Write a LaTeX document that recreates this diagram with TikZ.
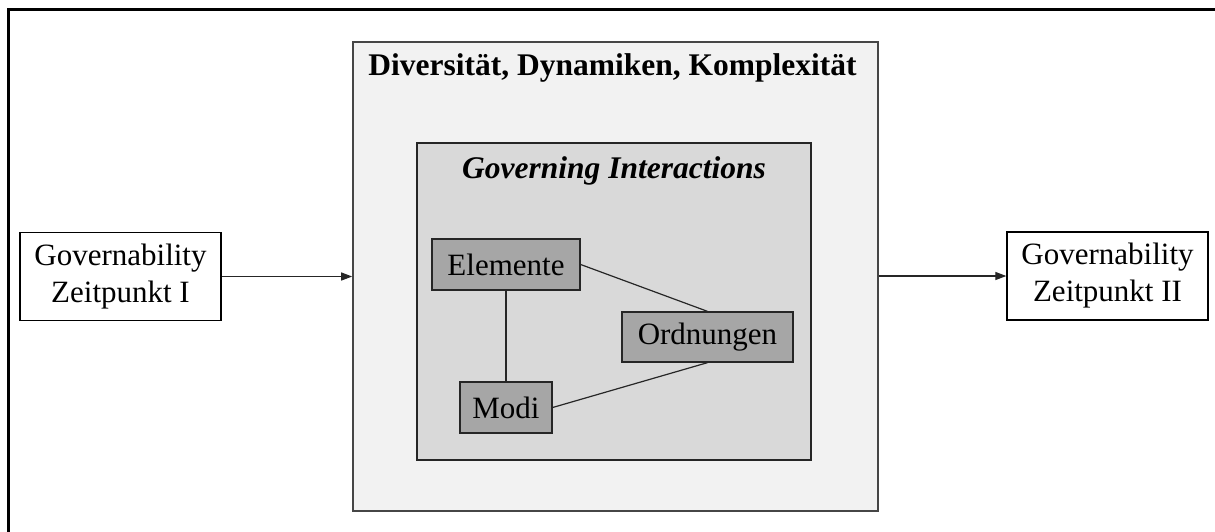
\documentclass[tikz,border=0pt]{standalone}
\usepackage{fontspec}
\setmainfont{Liberation Serif}
\usetikzlibrary{arrows.meta}
\definecolor{paleGray}{RGB}{242,242,242}
\definecolor{midGray}{RGB}{217,217,217}
\definecolor{darkGray}{RGB}{166,166,166}
\definecolor{edgeGray}{RGB}{70,70,70}
\tikzset{
  txt/.style={font=\fontsize{31}{37}\selectfont, align=center, inner sep=0pt},
  headfont/.style={font=\fontsize{31.5}{37}\selectfont\bfseries},
  headitfont/.style={font=\fontsize{31.5}{37}\selectfont\bfseries\itshape},
  statebox/.style={draw=black, line width=1.3pt, fill=white, minimum width=201pt, minimum height=88pt, txt},
  itembox/.style={draw=black!85, line width=1.3pt, fill=darkGray, txt},
  link/.style={line width=1.2pt, draw=black!85},
  flow/.style={line width=1.2pt, draw=black!85, -{Triangle[length=11pt,width=8pt]}},
}
\begin{document}
\begin{tikzpicture}[x=1pt,y=-1pt]
\useasboundingbox (0,0) rectangle (1215,531);
% outer frame (open to the right and bottom)
\draw[line width=3pt, black] (8.5,540) -- (8.5,9.5) -- (1225,9.5);

% context box
\node[draw=edgeGray, line width=1.6pt, fill=paleGray, minimum width=525pt, minimum height=469pt, inner sep=0pt] (ctx) at (615.5,276.5) {};
\node[txt, headfont, anchor=base] (ctxt) at (612.5,75) {Diversität, Dynamiken, Komplexität};

% interaction box
\node[draw=black!85, line width=1.6pt, fill=midGray, minimum width=394pt, minimum height=317pt, inner sep=0pt] (gi) at (614,301.5) {};
\node[txt, headitfont, anchor=base] (gitxt) at (614,178) {Governing Interactions};

% elements
\node[itembox, minimum width=148pt, minimum height=51pt] (el) at (506,264.5) {Elemente};
\node[itembox, minimum width=171pt, minimum height=50pt] (or) at (707.5,337) {Ordnungen};
\node[itembox, minimum width=92pt, minimum height=51pt] (mo) at (506,407.5) {Modi};

\draw[link] (el.east) -- (or.north);
\draw[link] (or.south) -- (mo.east);
\draw[link] (el.south) -- (mo.north);

% governability states
\node[statebox] (g1) at (120.5,276.5) {Governability\\Zeitpunkt I};
\node[statebox] (g2) at (1107.5,276) {Governability\\Zeitpunkt II};

\draw[flow] (g1.east) -- (ctx.west |- g1.east);
\draw[flow] (ctx.east |- g2.west) -- (g2.west);
\end{tikzpicture}
\end{document}
